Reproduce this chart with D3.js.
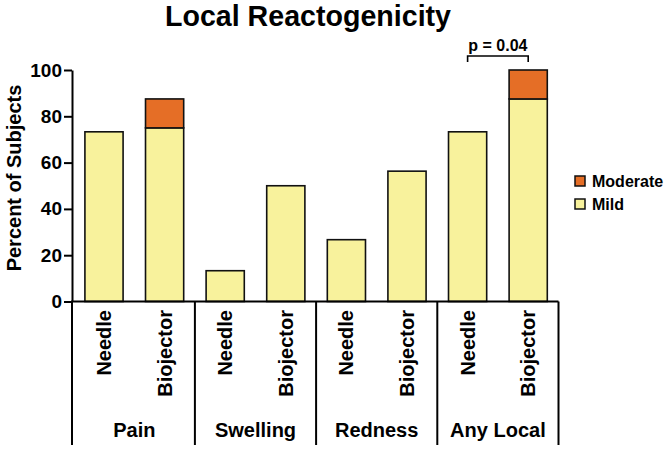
<!DOCTYPE html>
<html>
<head>
<meta charset="utf-8">
<script src="https://cdn.jsdelivr.net/npm/d3@7"></script>
<style>
  html, body { margin: 0; padding: 0; background: #fff; }
  text { font-family: "Liberation Sans", Arial, Helvetica, sans-serif; font-weight: bold; fill: #000; }
</style>
</head>
<body>
<svg id="chart" width="670" height="450"></svg>
<script>
const groups = ["Pain", "Swelling", "Redness", "Any Local"];
const devices = ["Needle", "Biojector"];
const mild = [73.3, 75, 13.3, 50, 26.7, 56.3, 73.3, 87.5];
const moderate = [0, 12.5, 0, 0, 0, 0, 0, 12.5];
const seriesNames = ["Mild", "Moderate"];
const seriesColors = ["#F8F29C", "#E56E26"];
const yTicks = [0, 20, 40, 60, 80, 100];
const titleText = "Local Reactogenicity";
const yLabel = "Percent of Subjects";
const pText = "p = 0.04";
const pPair = [6, 7];

(function () {
const rows = [];
groups.forEach((g, gi) => devices.forEach((d, di) => {
  const i = gi * devices.length + di;
  rows.push({ key: i, group: g, device: d, Mild: mild[i], Moderate: moderate[i] });
}));

const svg = d3.select("#chart");
const pLeft = 73.7, pRight = 558.5, pTop = 70, pBottom = 301.5, catBottom = 445;

const x = d3.scaleBand().domain(rows.map(r => r.key)).range([pLeft, pRight])
  .paddingInner(0.37).paddingOuter(0.185);
const y = d3.scaleLinear().domain([0, 100]).range([pBottom, pTop]);
const color = d3.scaleOrdinal().domain(seriesNames).range(seriesColors);

const stacked = d3.stack().keys(seriesNames)(rows);

// bars
svg.append("g").selectAll("g").data(stacked).join("g")
  .attr("fill", d => color(d.key))
  .selectAll("rect").data(d => d.filter(p => p[1] - p[0] > 0)).join("rect")
  .attr("x", d => x(d.data.key))
  .attr("width", x.bandwidth())
  .attr("y", d => y(d[1]))
  .attr("height", d => y(d[0]) - y(d[1]))
  .attr("stroke", "#111").attr("stroke-width", 1.6);

// y axis
const yAxis = d3.axisLeft(y).tickValues(yTicks).tickSize(8).tickSizeOuter(0).tickPadding(2);
const ya = svg.append("g").attr("transform", "translate(72,0)").call(yAxis);
ya.select(".domain").attr("stroke", "#000").attr("stroke-width", 2);
ya.selectAll(".tick line").attr("stroke", "#000").attr("stroke-width", 2);
ya.selectAll(".tick text").style("font-size", "19px").attr("fill", "#000")
  .style("font-family", "'Liberation Sans', Arial, sans-serif").style("font-weight", "bold");

// x axis baseline & category dividers
const half = x.step() * x.paddingInner() / 2;
svg.append("line").attr("x1", 71).attr("x2", pRight).attr("y1", y(0)).attr("y2", y(0))
  .attr("stroke", "#000").attr("stroke-width", 2);
const dividers = d3.range(groups.length + 1).map(g =>
  g === 0 ? 72 : (g === groups.length ? pRight : x(g * devices.length) - half));
svg.append("g").selectAll("line").data(dividers).join("line")
  .attr("x1", d => d).attr("x2", d => d)
  .attr("y1", y(0)).attr("y2", catBottom)
  .attr("stroke", "#000").attr("stroke-width", 2);

// device labels
svg.append("g").selectAll("text").data(rows).join("text")
  .attr("transform", d => `translate(${x(d.key) + x.bandwidth() / 2 + 7},310) rotate(-90)`)
  .attr("text-anchor", "end")
  .style("font-size", "20px")
  .text(d => d.device);

// group labels
svg.append("g").selectAll("text").data(groups).join("text")
  .attr("x", (g, i) => (x(i * 2) + x(i * 2 + 1) + x.bandwidth()) / 2)
  .attr("y", 437)
  .attr("text-anchor", "middle")
  .style("font-size", "20px")
  .text(g => g);

// y label
svg.append("text")
  .attr("transform", "translate(21,178) rotate(-90)")
  .attr("text-anchor", "middle")
  .style("font-size", "20px")
  .text(yLabel);

// title
svg.append("text").attr("x", 308).attr("y", 26).attr("text-anchor", "middle")
  .style("font-size", "28.6px").text(titleText);

// significance bracket
const bx1 = x(pPair[0]) + x.bandwidth() / 2, bx2 = x(pPair[1]) + x.bandwidth() / 2;
svg.append("path")
  .attr("d", `M${bx1},62 V56 H${bx2} V62`)
  .attr("fill", "none").attr("stroke", "#000").attr("stroke-width", 1.6);
svg.append("text").attr("x", (bx1 + bx2) / 2).attr("y", 51).attr("text-anchor", "middle")
  .style("font-size", "16px").text(pText);

// legend
const legendItems = ["Moderate", "Mild"];
const lg = svg.append("g").selectAll("g").data(legendItems).join("g")
  .attr("transform", (d, i) => `translate(575,${176 + i * 23})`);
lg.append("rect").attr("width", 10).attr("height", 10)
  .attr("fill", d => color(d)).attr("stroke", "#111").attr("stroke-width", 1.5);
lg.append("text").attr("x", 17).attr("y", 10.5).style("font-size", "16px").text(d => d);
})();
</script>
</body>
</html>
